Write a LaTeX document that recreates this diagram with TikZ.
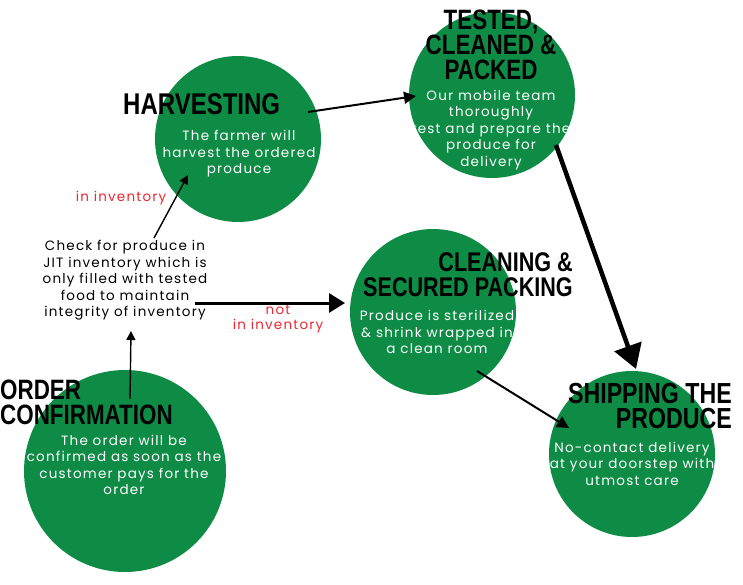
\documentclass[tikz,border=0pt]{standalone}
\usepackage{fontspec}
\usetikzlibrary{arrows.meta}
\setmainfont{Poppins}
\newfontfamily\titlefont{Liberation Sans}[FakeStretch=0.8]
\newfontfamily\bodyfont{Poppins}[LetterSpace=9]
\definecolor{leaf}{RGB}{14,140,69}
\definecolor{alertred}{RGB}{235,40,50}
\tikzset{
  bubble/.style={circle, fill=leaf, draw=none, inner sep=0pt},
  heading/.style={font=\titlefont\bfseries\fontsize{#1}{25}\selectfont, inner sep=0pt, text=black},
  body/.style={font=\bodyfont\fontsize{13.5}{16.5}\selectfont, text=white, align=center, inner sep=0pt},
  note/.style={font=\bodyfont\fontsize{13.5}{16.5}\selectfont, text=black, align=center, inner sep=0pt},
  flag/.style={font=\bodyfont\fontsize{13.5}{15}\selectfont, text=alertred, align=center, inner sep=0pt},
  thinarrow/.style={draw=black, line width=1.4pt, -{Triangle[length=9pt,width=9pt]}},
  midarrow/.style={draw=black, line width=2pt, -{Triangle[length=12pt,width=12pt]}},
  thickarrow/.style={draw=black, line width=3pt, -{Triangle[length=16pt,width=19pt]}},
  heavyarrow/.style={draw=black, line width=4.5pt, -{Triangle[length=24pt,width=28pt]}}
}
\begin{document}
\begin{tikzpicture}[x=1pt,y=-1pt]
\useasboundingbox (0,0) rectangle (743,585);
% circles
\node[bubble, minimum size=202pt] (order) at (125,471) {};
\node[bubble, minimum size=166pt] (harvest) at (238,139) {};
\node[bubble, minimum size=166pt] (tested) at (492,95) {};
\node[bubble, minimum size=166pt] (cleaning) at (433,312) {};
\node[bubble, minimum size=166pt] (shipping) at (632,454) {};
% titles
\node[heading=28, anchor=north west, align=left] (ordertitle) at (0,380) {ORDER\\CONFIRMATION};
\node[heading=30, anchor=north west, align=left] (harvesttitle) at (123,93) {HARVESTING};
\node[heading=28, anchor=north, align=center] (testedtitle) at (491,10) {TESTED,\\CLEANED \&\\PACKED};
\node[heading=27, anchor=north east, align=right] (cleaningtitle) at (573,252) {CLEANING \&\\SECURED PACKING};
\node[heading=29, anchor=north east, align=right] (shippingtitle) at (732,383) {SHIPPING THE\\PRODUCE};
% body texts
\node[body] (orderbody) at (124,465) {The order will be\\confirmed as soon as the\\customer pays for the\\order};
\node[body] (harvestbody) at (239,154) {The farmer will\\harvest the ordered\\produce};
\node[body] (testedbody) at (491,130) {Our mobile team\\thoroughly\\test and prepare the\\produce for\\delivery};
\node[body] (cleaningbody) at (437,332) {Produce is sterilized\\\& shrink wrapped in\\a clean room};
\node[body] (shippingbody) at (632,463.5) {No-contact delivery\\at your doorstep with\\utmost care};
\node[note] (check) at (125,280.5) {Check for produce in\\JIT inventory which is\\only filled with tested\\food to maintain\\integrity of inventory};
\node[flag] (ininv) at (121,198) {in inventory};
\node[flag] (notinv) at (278,319.5) {not\\in inventory};
% connector end points
\coordinate (a1) at (130,399);
\coordinate (a2) at (131,331);
\coordinate (b1) at (154,238);
\coordinate (b2) at (188,175);
\coordinate (c1) at (195,303);
\coordinate (c2) at (345,303);
\coordinate (d1) at (308,112);
\coordinate (d2) at (416,96);
\coordinate (e1) at (556,145);
\coordinate (e2) at (636,369);
\coordinate (f1) at (477,371);
\coordinate (f2) at (569,428);
% connectors
\draw[thinarrow] (a1) -- (a2);
\draw[thinarrow] (b1) -- (b2);
\draw[thickarrow] (c1) -- (c2);
\draw[midarrow] (d1) -- (d2);
\draw[heavyarrow] (e1) -- (e2);
\draw[midarrow] (f1) -- (f2);
\end{tikzpicture}
\end{document}
